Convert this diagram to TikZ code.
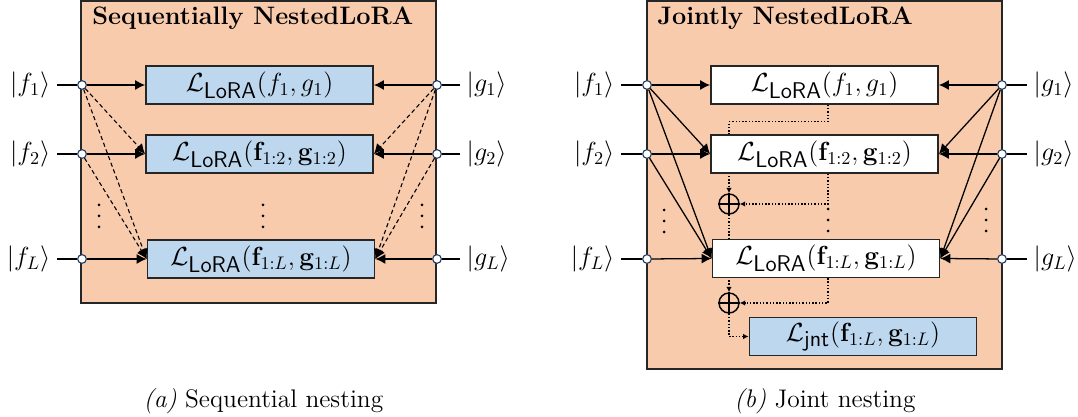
\RequirePackage{fix-cm}
\documentclass[tikz,border=0pt]{standalone}
\usepackage{amsmath}
\usetikzlibrary{arrows.meta,calc}
\definecolor{orangebg}{HTML}{F8CBAD}
\definecolor{bluebg}{HTML}{BDD7EE}
\definecolor{portc}{HTML}{1F3A60}
\newcommand{\lora}{\mathcal{L}_{\mbox{\fontsize{12.5}{14}\selectfont\sffamily LoRA}}}
\newcommand{\jnt}{\mathcal{L}_{\mbox{\fontsize{12.5}{14}\selectfont\sffamily jnt}}}
\pgfdeclarelayer{bg}
\pgfdeclarelayer{mid}
\pgfsetlayers{bg,mid,main}
\tikzset{
  panel/.style={draw=black!85, line width=0.9pt, fill=orangebg},
  lossbox/.style={draw=black!85, line width=0.8pt, minimum width=125pt, minimum height=20.9pt, inner sep=0pt, font=\fontsize{14.4}{16}\selectfont},
  bluebox/.style={lossbox, fill=bluebg},
  whitebox/.style={lossbox, fill=white},
  port/.style={circle, draw=portc, fill=white, line width=0.6pt, minimum size=4.8pt, inner sep=0pt},
  lab/.style={font=\fontsize{14.4}{16}\selectfont, inner sep=3.5pt},
  ttl/.style={font=\fontsize{13.9}{16}\selectfont\bfseries, anchor=base west, inner sep=0pt},
  arr/.style={-{Latex[length=5.5pt,width=5.5pt]}, line width=0.7pt},
  dsh/.style={arr, dash pattern=on 2.3pt off 1.6pt, line width=0.6pt},
  dotl/.style={-{Latex[length=3pt,width=3pt]}, line width=0.8pt, dash pattern=on 0.8pt off 1pt},
  plusn/.style={circle, draw=black, line width=0.8pt, minimum size=11pt, inner sep=0pt},
  captxt/.style={font=\fontsize{14}{16}\selectfont, anchor=base},
  dt/.style={fill=black}
}
\newcommand{\dotcol}[2]{\fill[dt] (#1,#2-11) circle (1.5); \fill[dt] (#1,#2) circle (1.5); \fill[dt] (#1,#2+11) circle (1.5);}
\begin{document}
\begin{tikzpicture}[x=0.55pt,y=-0.55pt]
\useasboundingbox (0,0) rectangle (1078,417);
\begin{pgfonlayer}{bg}
\draw[panel] (81,0.8) rectangle (436,303);
\draw[panel] (647,0.8) rectangle (1002,369);
\end{pgfonlayer}
% ---------- left panel ----------
\node[ttl] (t1) at (92,25) {Sequentially NestedLoRA};
\node[bluebox] (a1) at (259.5,85) {$\lora(f_1, g_1)$};
\node[bluebox] (a2) at (259.5,154) {$\lora(\mathbf{f}_{1:2}, \mathbf{g}_{1:2})$};
\node[bluebox] (aL) at (261,259) {$\lora(\mathbf{f}_{1:L}, \mathbf{g}_{1:L})$};
\node[port] (pf1) at (82,85) {};
\node[port] (pf2) at (82,154) {};
\node[port] (pfL) at (82,259) {};
\node[port] (pg1) at (437,85) {};
\node[port] (pg2) at (437,154) {};
\node[port] (pgL) at (437,259) {};
\node[lab, anchor=east] (lf1) at (57,85) {$|f_1\rangle$};
\node[lab, anchor=east] (lf2) at (57,154) {$|f_2\rangle$};
\node[lab, anchor=east] (lfL) at (57,259) {$|f_L\rangle$};
\node[lab, anchor=west] (lg1) at (460,85) {$|g_1\rangle$};
\node[lab, anchor=west] (lg2) at (460,154) {$|g_2\rangle$};
\node[lab, anchor=west] (lgL) at (460,259) {$|g_L\rangle$};
\foreach \n in {f1,f2,fL,g1,g2,gL} \draw[line width=0.7pt] (l\n) -- (p\n);
\draw[arr] (pf1) -- (a1.west);
\draw[arr] (pf2) -- (a2.west);
\draw[arr] (pfL) -- (aL.west);
\draw[arr] (pg1) -- (a1.east);
\draw[arr] (pg2) -- (a2.east);
\draw[arr] (pgL) -- (aL.east);
\draw[dsh] (pf1) -- (a2.west);
\draw[dsh] (pf1) -- (aL.west);
\draw[dsh] (pf2) -- (aL.west);
\draw[dsh] (pg1) -- (a2.east);
\draw[dsh] (pg1) -- (aL.east);
\draw[dsh] (pg2) -- (aL.east);
\dotcol{99}{216}
\dotcol{263}{216}
\dotcol{422}{216}
\node[captxt] (c1) at (263.5,408) {\textit{(a)} Sequential nesting};
% ---------- right panel ----------
\node[ttl] (t2) at (657,25) {Jointly NestedLoRA};
\node[whitebox] (b1) at (824.5,85) {$\lora(f_1, g_1)$};
\node[whitebox] (b2) at (824.5,154) {$\lora(\mathbf{f}_{1:2}, \mathbf{g}_{1:2})$};
\node[whitebox] (bL) at (826,258.5) {$\lora(\mathbf{f}_{1:L}, \mathbf{g}_{1:L})$};
\node[bluebox] (bj) at (863,336.5) {$\jnt(\mathbf{f}_{1:L}, \mathbf{g}_{1:L})$};
\node[plusn] (s1) at (729,204) {};
\node[plusn] (s2) at (729,303) {};
\foreach \s in {s1,s2} {\draw[line width=0.8pt] (\s.north) -- (\s.south); \draw[line width=0.8pt] (\s.west) -- (\s.east);}
\coordinate (xd) at (828,0);
\node[port] (qf1) at (647,85) {};
\node[port] (qf2) at (647,154) {};
\node[port] (qfL) at (647,259) {};
\node[port] (qg1) at (1002,85) {};
\node[port] (qg2) at (1002,154) {};
\node[port] (qgL) at (1002,259) {};
\node[lab, anchor=east] (mf1) at (621,85) {$|f_1\rangle$};
\node[lab, anchor=east] (mf2) at (621,154) {$|f_2\rangle$};
\node[lab, anchor=east] (mfL) at (621,259) {$|f_L\rangle$};
\node[lab, anchor=west] (mg1) at (1027,85) {$|g_1\rangle$};
\node[lab, anchor=west] (mg2) at (1027,154) {$|g_2\rangle$};
\node[lab, anchor=west] (mgL) at (1027,259) {$|g_L\rangle$};
\foreach \n in {f1,f2,fL,g1,g2,gL} \draw[line width=0.7pt] (m\n) -- (q\n);
\draw[arr] (qf1) -- (b1.west);
\draw[arr] (qf1) -- (b2.west);
\draw[arr] (qf1) -- (bL.west);
\draw[arr] (qf2) -- (b2.west);
\draw[arr] (qf2) -- (bL.west);
\draw[arr] (qfL) -- (bL.west);
\draw[arr] (qg1) -- (b1.east);
\draw[arr] (qg1) -- (b2.east);
\draw[arr] (qg1) -- (bL.east);
\draw[arr] (qg2) -- (b2.east);
\draw[arr] (qg2) -- (bL.east);
\draw[arr] (qgL) -- (bL.east);
\begin{pgfonlayer}{mid}
\draw[dotl] (b1.south -| xd) -- ++(0,17) -| (s1.north);
\draw[dotl] (s1.south) -- (s2.north);
\end{pgfonlayer}
\draw[dotl] (b2.south -| xd) |- (s1.east);
\draw[dotl] (bL.south -| xd) |- (s2.east);
\draw[dotl] (s2.south) |- (bj.west);
\dotcol{664}{221}
\dotcol{828}{220}
\dotcol{986}{220}
\node[captxt] (c2) at (825,408) {\textit{(b)} Joint nesting};
\end{tikzpicture}
\end{document}
